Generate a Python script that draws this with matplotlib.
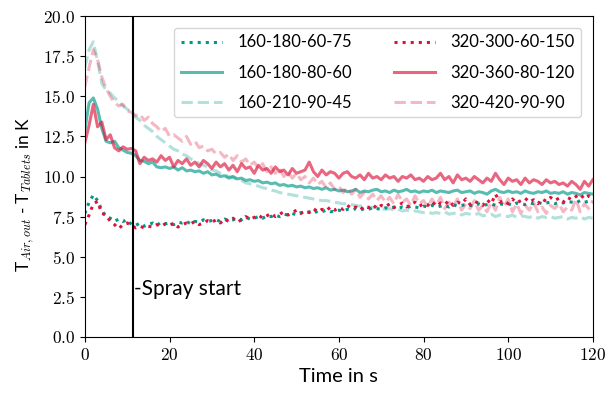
"""Air outlet vs tablet temperature difference over time."""

import numpy as np
import matplotlib
matplotlib.use("Agg")
import matplotlib.pyplot as plt
from matplotlib.ticker import FuncFormatter

plt.rcParams['mathtext.fontset'] = 'cm'
plt.rcParams['font.family'] = ['Lato', 'DejaVu Sans']

time_s = np.arange(0, 121)
spray_start = 11.3

labels = ["160-180-60-75", "160-180-80-60", "160-210-90-45",
          "320-300-60-150", "320-360-80-120", "320-420-90-90"]

teal_dotted = [
    7.7, 8.4, 8.85, 8.5, 7.9, 7.5, 7.4, 7.2, 7.35, 7.2, 7.3,
    7.0, 6.95, 7.1, 6.9, 7.0, 7.1, 6.95, 7.15, 7.05, 7.1,
    7.0, 7.15, 7.1, 7.2, 7.05, 7.2, 7.15, 7.3, 7.2, 7.25,
    7.3, 7.2, 7.35, 7.25, 7.3, 7.4, 7.3, 7.45, 7.35, 7.4,
    7.5, 7.4, 7.55, 7.5, 7.6, 7.5, 7.65, 7.6, 7.7, 7.6,
    7.75, 7.7, 7.8, 7.7, 7.85, 7.8, 7.9, 7.8, 7.85, 7.9,
    7.85, 7.95, 7.9, 8.0, 7.9, 8.0, 7.95, 8.05, 8.0, 7.95,
    8.05, 8.0, 8.1, 8.0, 8.1, 8.05, 8.15, 8.1, 8.05, 8.15,
    8.1, 8.2, 8.1, 8.15, 8.2, 8.1, 8.25, 8.15, 8.2, 8.25,
    8.2, 8.15, 8.3, 8.2, 8.25, 8.3, 8.2, 8.3, 8.25, 8.3,
    8.2, 8.35, 8.3, 8.25, 8.35, 8.3, 8.4, 8.3, 8.35, 8.4,
    8.3, 8.4, 8.35, 8.45, 8.4, 8.35, 8.5, 8.4, 8.45, 8.4]

teal_solid = [
    12.9, 14.6, 14.9, 14.2, 13.0, 12.2, 12.1, 12.2, 11.8, 11.65, 11.5,
    11.45, 11.3, 11.0, 10.95, 10.8, 10.9, 10.6, 10.55, 10.6, 10.5,
    10.6, 10.4, 10.55, 10.35, 10.4, 10.3, 10.35, 10.2, 10.3, 10.1,
    10.15, 10.0, 10.05, 9.9, 10.0, 9.85, 9.9, 9.75, 9.8, 9.7,
    9.75, 9.6, 9.65, 9.55, 9.6, 9.45, 9.5, 9.4, 9.45, 9.35,
    9.4, 9.3, 9.35, 9.25, 9.3, 9.2, 9.3, 9.15, 9.2, 9.1,
    9.15, 9.05, 9.1, 9.2, 9.0, 9.1, 9.05, 9.15, 9.2, 9.05,
    9.1, 9.0, 9.15, 9.05, 9.1, 9.2, 9.05, 9.1, 9.0, 9.1,
    9.05, 9.15, 9.0, 9.1, 9.05, 9.0, 9.1, 9.15, 9.0, 9.05,
    9.1, 8.95, 9.05, 9.0, 8.9, 9.1, 9.2, 9.05, 9.0, 9.1,
    9.0, 9.05, 8.95, 9.1, 9.0, 8.95, 9.05, 9.0, 9.1, 8.95,
    9.0, 8.95, 9.05, 8.9, 9.0, 8.95, 8.85, 9.0, 8.95, 8.9]

teal_dashed = [
    16.8, 17.9, 18.4, 17.2, 15.8, 15.4, 15.2, 14.9, 14.7, 14.4, 14.2,
    14.0, 13.7, 13.5, 13.2, 13.0, 12.8, 12.5, 12.3, 12.1, 11.9,
    11.7, 11.6, 11.4, 11.3, 11.1, 11.0, 10.8, 10.7, 10.6, 10.4,
    10.35, 10.2, 10.1, 10.0, 9.95, 9.8, 9.75, 9.6, 9.55, 9.45,
    9.4, 9.3, 9.25, 9.15, 9.1, 9.0, 8.95, 8.9, 8.85, 8.8,
    8.75, 8.7, 8.65, 8.6, 8.55, 8.5, 8.5, 8.45, 8.4, 8.35,
    8.3, 8.3, 8.25, 8.2, 8.15, 8.2, 8.1, 8.05, 8.1, 8.0,
    7.95, 8.0, 7.9, 7.95, 7.85, 7.9, 7.8, 7.85, 7.8, 7.75,
    7.8, 7.7, 7.75, 7.7, 7.8, 7.65, 7.7, 7.75, 7.6, 7.7,
    7.65, 7.6, 7.7, 7.55, 7.6, 7.65, 7.5, 7.6, 7.55, 7.5,
    7.6, 7.45, 7.55, 7.5, 7.45, 7.55, 7.4, 7.5, 7.45, 7.5,
    7.4, 7.45, 7.5, 7.35, 7.45, 7.4, 7.5, 7.35, 7.45, 7.4]

red_dotted = [
    7.0, 7.6, 8.3, 8.45, 7.7, 7.6, 7.2, 7.0, 6.75, 7.0, 7.1,
    6.95, 6.8, 6.9, 6.8, 6.9, 6.85, 7.0, 6.9, 7.05, 6.95,
    7.1, 6.85, 7.0, 7.1, 7.05, 7.2, 7.0, 7.1, 7.25, 7.15,
    7.3, 7.1, 7.35, 7.2, 7.4, 7.15, 7.3, 7.5, 7.35, 7.45,
    7.6, 7.4, 7.55, 7.7, 7.5, 7.65, 7.8, 7.6, 7.75, 7.9,
    7.7, 7.85, 7.75, 8.0, 7.8, 7.95, 7.85, 8.1, 7.9, 8.05,
    7.95, 8.2, 8.0, 8.1, 7.9, 8.15, 8.05, 8.25, 8.0, 8.2,
    8.1, 8.3, 8.05, 8.2, 8.35, 8.1, 8.25, 8.4, 8.15, 8.3,
    8.2, 8.45, 8.15, 8.35, 8.25, 8.5, 8.2, 8.4, 8.3, 8.6,
    8.25, 8.45, 8.35, 8.2, 8.55, 8.3, 8.9, 8.4, 8.5, 8.3,
    8.6, 8.35, 8.5, 8.65, 8.4, 8.55, 8.3, 8.6, 8.45, 8.7,
    8.5, 8.65, 8.4, 8.7, 8.55, 8.75, 8.9, 8.6, 8.8, 8.65]

red_solid = [
    12.1, 13.2, 14.5, 13.1, 13.4, 12.3, 12.6, 11.8, 11.6, 11.85, 11.7,
    11.75, 11.6, 10.8, 11.2, 11.0, 11.1, 10.9, 11.3, 11.0, 11.2,
    10.6, 11.0, 10.8, 11.1, 10.7, 10.9, 10.6, 11.0, 10.8, 10.5,
    10.9, 10.6, 10.8, 10.4, 10.7, 10.3, 10.8, 10.5, 10.6, 10.2,
    10.7, 10.4, 10.5, 10.2, 10.6, 10.3, 10.4, 10.1, 10.5, 10.2,
    10.3, 10.4, 10.9, 10.3, 10.0, 10.4, 10.1, 10.3, 10.2, 9.9,
    10.2, 10.3, 10.0, 9.9, 10.1, 9.8, 10.2, 9.9, 10.0, 9.8,
    10.1, 9.9, 10.0, 9.7, 10.0, 9.9, 10.1, 9.8, 9.9, 9.7,
    10.0, 9.8, 9.9, 10.2, 9.8, 10.0, 9.6, 10.1, 9.8, 9.9,
    9.7, 10.0, 9.8, 9.6, 9.9, 9.7, 10.2, 9.8, 9.5, 9.9,
    9.7, 9.8, 9.5, 9.9, 9.6, 9.8, 9.7, 9.5, 9.8, 9.6,
    9.7, 9.5, 9.6, 9.4, 9.7, 9.5, 9.2, 9.7, 9.4, 9.8]

red_dashed = [
    15.6, 16.8, 17.9, 17.3, 16.2, 15.5, 15.0, 14.6, 14.4, 14.5, 14.1,
    14.0, 13.8, 13.9, 13.5, 13.7, 13.3, 13.1, 12.8, 13.0, 12.5,
    12.6, 12.4, 12.2, 12.5, 12.0, 12.2, 11.8, 11.9, 11.6, 11.7,
    11.4, 11.5, 11.2, 11.4, 11.0, 11.3, 10.9, 11.1, 10.7, 10.9,
    10.5, 10.8, 10.3, 10.6, 10.2, 10.5, 10.0, 10.3, 9.9, 10.2,
    9.8, 10.0, 9.6, 9.9, 9.5, 9.7, 9.3, 9.6, 9.2, 9.4,
    9.0, 9.3, 8.9, 9.2, 8.7, 9.0, 8.6, 8.9, 8.5, 8.8,
    8.4, 8.7, 8.3, 8.9, 8.4, 8.6, 8.2, 8.8, 8.3, 8.5,
    8.1, 8.6, 8.2, 8.7, 8.0, 8.4, 8.1, 8.6, 7.9, 8.3,
    8.0, 8.5, 7.9, 8.2, 7.8, 8.4, 7.9, 8.7, 8.1, 8.6,
    7.8, 8.3, 7.7, 8.2, 7.9, 8.4, 7.8, 8.1, 7.7, 8.2,
    8.0, 8.3, 7.8, 8.1, 7.9, 8.6, 7.8, 8.3, 8.0, 8.5]

series = [teal_dotted, teal_solid, teal_dashed, red_dotted, red_solid, red_dashed]
teal = '#009988'
red = 'crimson'
colors = [teal, teal, teal, red, red, red]
styles = [':', '-', '--', ':', '-', '--']
alphas = [1.0, 0.65, 0.3, 1.0, 0.65, 0.3]

fig = plt.figure(figsize=(6.15, 3.94), dpi=100)
ax = fig.add_axes([0.138, 0.145, 0.826, 0.814])

for values, label, c, ls, a in zip(series, labels, colors, styles, alphas):
    ax.plot(time_s, values, color=c, linestyle=ls, alpha=a, lw=2.2, label=label)

ax.axvline(spray_start, color='black', lw=1.5)
ax.text(spray_start + 0.3, 3.0, '-Spray start', fontsize=15, ha='left', va='center')

ax.set_xlim(0, 120)
ax.set_ylim(0, 20)
ax.set_xticks(np.arange(0, 121, 20))
ax.set_yticks(np.arange(0, 20.1, 2.5))
ax.xaxis.set_major_formatter(FuncFormatter(lambda v, p: r'$%d$' % v))
ax.yaxis.set_major_formatter(FuncFormatter(lambda v, p: r'$%.1f$' % v))
ax.tick_params(labelsize=12.5)

ax.set_xlabel('Time in s', fontsize=14.5)
ax.set_ylabel(r'T$_{Air,out}$ - T$_{Tablets}$ in K', fontsize=12.5)
ax.yaxis.set_label_coords(-0.095, 0.445)

ax.legend(loc='upper right', ncol=2, fontsize=12, handlelength=2.5,
          handletextpad=0.9, columnspacing=2.5, labelspacing=0.85,
          borderaxespad=0.7)

fig.savefig('out.png', dpi=100)
